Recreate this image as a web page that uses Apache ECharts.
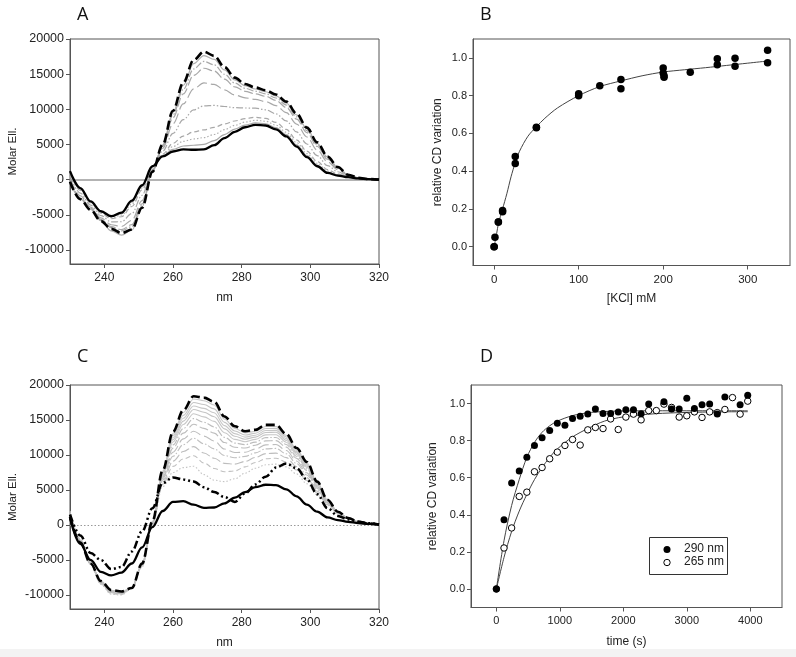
<!DOCTYPE html>
<html><head><meta charset="utf-8">
<script src="https://cdn.jsdelivr.net/npm/echarts@6/dist/echarts.min.js"></script>
<style>html,body{margin:0;padding:0;background:#fff}#c{width:796px;height:657px}</style>
</head><body><div id="c"></div>
<script>
// ---------- Panel A / C wavelength grid (nm) ----------
const wl = [230,233,236,239,242,245,248,251,254,257,260,263,266,269,272,275,278,281,284,287,290,293,296,299,302,305,308,311,314,317,320];
// ---------- Panel A (Molar Ell.) ----------
const aDashed = [-300,-2800,-4300,-5900,-7000,-7600,-7100,-4000,1100,5000,9800,13800,17000,18200,17600,16000,14500,13600,13100,12700,12100,11100,9400,7400,5300,3300,1800,700,250,80,0];
const aBlack  = [1200,-1200,-3100,-4500,-5200,-4700,-3000,-800,1900,3300,4000,4300,4250,4300,4900,5900,6800,7450,7800,7700,7150,6150,4700,3200,1900,950,580,350,180,60,0];
const aGray1 = [-240,-2750,-4250,-5850,-7300,-7900,-7200,-3870,1130,4930,9570,13420,16490,17640,17090,15600,14190,13350,12890,12500,11900,10900,9210,7230,5160,3210,1750,690,250,80,0];
const aGray2 = [-150,-2640,-4180,-5760,-6820,-7310,-6690,-3680,1180,4830,9220,12850,15730,16810,16330,14990,13730,12990,12570,12200,11610,10610,8930,6980,4960,3070,1680,670,240,80,0];
const aGray3 = [-50,-2530,-4100,-5660,-6690,-7110,-6400,-3460,1240,4710,8810,12190,14830,15840,15440,14280,13190,12560,12200,11850,11260,10260,8600,6690,4720,2900,1590,640,240,80,0];
const aGray4 = [180,-2290,-3920,-5450,-6420,-6670,-5790,-2980,1360,4460,7940,10760,12920,13750,13540,12770,12040,11630,11400,11100,10520,9520,7900,6060,4210,2550,1410,590,230,70,0];
const aGray5 = [530,-1910,-3630,-5120,-6000,-5990,-4830,-2220,1540,4060,6580,8530,9920,10490,10550,10400,10230,10190,10160,9930,9350,8350,6790,5070,3410,2000,1120,510,210,70,0];
const aGray6 = [900,-1520,-3340,-4780,-5560,-5280,-3820,-1440,1740,3640,5160,6200,6800,7080,7440,7920,8340,8680,8860,8700,8140,7140,5640,4040,2580,1420,820,420,190,60,0];
const aGray7 = [1020,-1390,-3240,-4670,-5420,-5050,-3490,-1180,1800,3500,4700,5440,5780,5970,6420,7110,7720,8190,8440,8300,7740,6740,5260,3700,2310,1230,730,390,190,60,0];
const aGray8 = [1130,-1280,-3160,-4570,-5290,-4850,-3210,-960,1860,3390,4290,4780,4890,5000,5540,6410,7190,7760,8070,7950,7400,6400,4940,3410,2070,1070,640,370,180,60,0];
// ---------- Panel C (Molar Ell.) ----------
const cDashed  = [1200,-2500,-5500,-8000,-9300,-9500,-9000,-5500,500,7800,13300,16400,18400,18200,17600,15500,14100,13400,13600,14300,14300,13000,11000,9000,6200,3600,1900,1000,450,200,50];
const cBlack   = [1000,-2700,-5000,-6700,-7200,-6800,-5500,-3200,-300,2000,3300,3400,2900,2450,2500,3100,3900,4700,5400,5750,5700,5100,4100,2900,1900,1100,700,450,280,150,50];
const cDashDot = [1500,-1500,-4000,-5000,-6300,-6000,-3800,-900,2400,6000,6800,6500,6200,5400,4700,4000,3300,4500,5800,6900,8200,8800,8100,6500,4400,2400,1300,800,480,250,80];
const cG1  = [1230,-2480,-5500,-8020,-9320,-9520,-9000,-5520,480,7710,13070,16070,18000,17760,17150,15130,13800,13160,13380,14070,14080,12810,10850,8880,6120,3570,1890,1000,450,200,50];
const cG2  = [1270,-2460,-5510,-8050,-9350,-9550,-9000,-5550,460,7590,12780,15660,17500,17210,16590,14660,13430,12860,13110,13790,13800,12580,10670,8720,6030,3530,1870,990,450,200,50];
const cG3  = [1310,-2430,-5510,-8070,-9380,-9570,-9000,-5570,430,7480,12490,15250,17000,16660,16030,14200,13050,12560,12830,13500,13520,12340,10480,8570,5930,3490,1860,990,440,200,50];
const cG4  = [1350,-2410,-5520,-8100,-9410,-9600,-9000,-5600,410,7360,12200,14840,16500,16110,15470,13730,12680,12260,12560,13220,13240,12110,10300,8410,5840,3450,1840,980,440,200,50];
const cG5  = [1400,-2380,-5530,-8130,-9450,-9630,-9000,-5630,380,7230,11850,14350,15900,15450,14800,13180,12230,11900,12230,12880,12900,11830,10080,8230,5730,3400,1830,980,440,200,50];
const cG6  = [1460,-2340,-5530,-8160,-9490,-9660,-9000,-5660,340,7060,11440,13780,15200,14680,14020,12520,11700,11480,11840,12480,12510,11500,9820,8010,5590,3340,1800,970,430,200,50];
const cG7  = [1520,-2300,-5540,-8200,-9540,-9700,-9000,-5700,300,6880,10980,13120,14400,13800,13120,11780,11100,11000,11400,12020,12060,11120,9520,7760,5440,3280,1780,960,430,200,50];
const cG8  = [1600,-2250,-5550,-8250,-9600,-9750,-9000,-5750,250,6650,10400,12300,13400,12700,12000,10850,10350,10400,10850,11450,11500,10650,9150,7450,5250,3200,1750,950,430,200,50];
const cG9  = [1680,-2200,-5560,-8300,-9660,-9800,-9000,-5800,200,6420,9820,11480,12400,11600,10880,9920,9600,9800,10300,10880,10940,10180,8780,7140,5060,3120,1720,940,420,200,50];
const cG10 = [1780,-2140,-5570,-8360,-9730,-9860,-9000,-5860,140,6140,9120,10500,11200,10280,9540,8800,8700,9080,9640,10200,10270,9620,8340,6770,4830,3020,1680,930,410,200,50];
const cG11 = [1880,-2080,-5590,-8430,-9810,-9930,-9000,-5930,80,5850,8370,9430,9900,8850,8080,7600,7730,8300,8930,9460,9540,9010,7860,6370,4590,2920,1650,920,410,200,50];
const cG12 = [2000,-2000,-5600,-8500,-9900,-10000,-9000,-6000,0,5500,7500,8200,8400,7200,6400,6200,6600,7400,8100,8600,8700,8300,7300,5900,4300,2800,1600,900,400,200,50];
// ---------- Panel B ----------
const kcl    = [0,0,1,5,5,10,10,25,25,50,50,100,100,125,150,150,200,200,201,201,232,264,264,285,285,323.5,323.5];
const kclVar = [0,0,0.05,0.13,0.13,0.185,0.192,0.478,0.44,0.63,0.632,0.80,0.81,0.852,0.885,0.836,0.947,0.92,0.905,0.898,0.924,0.996,0.963,0.998,0.956,1.04,0.974];
const kclFitX = [0,3,5,10,15,20,25,30,40,50,60,75,100,125,150,175,200,225,250,275,300,323];
const kclFitY = [0,0.07,0.12,0.2,0.28,0.37,0.445,0.505,0.585,0.635,0.68,0.735,0.80,0.848,0.878,0.905,0.925,0.937,0.948,0.96,0.972,0.983];
// ---------- Panel D ----------
const t290 = [0,120,240,360,480,600,720,840,960,1080,1200,1320,1440,1560,1680,1800,1920,2040,2160,2280,2400,2640,2760,2880,3000,3120,3240,3360,3480,3600,3840,3960];
const v290 = [0,0.373,0.571,0.636,0.711,0.774,0.815,0.855,0.894,0.883,0.919,0.932,0.943,0.971,0.946,0.946,0.955,0.966,0.966,0.945,0.998,1.009,0.97,0.971,1.029,0.973,0.993,0.998,0.943,1.035,0.993,1.045];
const t265 = [0,120,240,360,480,600,720,840,960,1080,1200,1320,1440,1560,1680,1800,1920,2040,2160,2280,2400,2520,2640,2760,2880,3000,3120,3240,3360,3480,3600,3720,3840,3960];
const v265 = [0,0.221,0.329,0.499,0.522,0.632,0.655,0.702,0.738,0.774,0.806,0.776,0.858,0.871,0.865,0.917,0.86,0.927,0.943,0.912,0.962,0.962,0.997,0.979,0.927,0.934,0.955,0.925,0.955,0.951,0.968,1.032,0.943,1.013];
const fitT   = [0,120,240,360,480,600,720,840,960,1200,1440,1700,2000,2500,3000,3500,3960];
const fit290 = [0,0.26,0.45,0.59,0.71,0.79,0.845,0.88,0.905,0.935,0.95,0.957,0.96,0.961,0.961,0.961,0.961];
const fit265 = [0,0.17,0.31,0.42,0.51,0.59,0.655,0.71,0.755,0.82,0.865,0.905,0.928,0.945,0.952,0.955,0.956];
const legendNames = ['290 nm','265 nm'];

// ---------- build ----------
const FONT = 'Liberation Sans, Arial, sans-serif';
const AX = '#555';
function pairs(xs, ys){ return xs.map((x,i)=>[x, ys[i]]); }
function curve(gi, ys, color, width, type, z){
  return {type:'line', xAxisIndex:gi, yAxisIndex:gi, data:pairs(wl, ys), smooth:0.35, smoothMonotone:'x',
    symbol:'none', silent:true, z:z||2, lineStyle:{color:color, width:width, type:type, cap:'butt'}};
}
const series = [];
// Panel A grays
const aStyles = [[aGray1,'#b0b0b0','solid'],[aGray2,'#a8a8a8',[7,2,1.5,2]],[aGray3,'#a8a8a8',[9,3]],[aGray4,'#a8a8a8',[11,4]],
  [aGray5,'#a8a8a8',[7,2,1.5,2,1.5,2]],[aGray6,'#a8a8a8',[5,3]],[aGray7,'#b0b0b0',[1.5,2]],[aGray8,'#a8a8a8','solid']];
aStyles.forEach(s=>series.push(curve(0, s[0], s[1], 1.2, s[2])));
const aBlackS = curve(0, aBlack, '#000', 2.3, 'solid', 5);
aBlackS.markLine = {silent:true, symbol:'none', label:{show:false}, animation:false,
  lineStyle:{color:'#9a9a9a', width:1.6, type:'solid'}, data:[{yAxis:0}]};
series.push(aBlackS);
series.push(curve(0, aDashed, '#000', 2.6, [9,4], 6));
// Panel C grays
const cStyles = [[cG1,'#c8c8c8','solid'],[cG2,'#c4c4c4','solid'],[cG3,'#c8c8c8','solid'],[cG4,'#c4c4c4','solid'],[cG5,'#c8c8c8','solid'],
  [cG6,'#bdbdbd',[7,2,1.5,2]],[cG7,'#bdbdbd',[9,3]],[cG8,'#bdbdbd',[11,4]],[cG9,'#c0c0c0',[7,2,1.5,2]],[cG10,'#bdbdbd',[9,3]],
  [cG11,'#c0c0c0',[5,3]],[cG12,'#c4c4c4',[1.5,2]]];
cStyles.forEach(s=>series.push(curve(2, s[0], s[1], 1.1, s[2])));
const cBlackS = curve(2, cBlack, '#000', 2.3, 'solid', 5);
cBlackS.markLine = {silent:true, symbol:'none', label:{show:false}, animation:false,
  lineStyle:{color:'#999', width:1, type:[1.5,2]}, data:[{yAxis:0}]};
series.push(cBlackS);
series.push(curve(2, cDashDot, '#000', 2.5, [8,3,2,3,2,3], 6));
series.push(curve(2, cDashed, '#000', 2.6, [9,4], 6));
// Panel B
series.push({type:'line', xAxisIndex:1, yAxisIndex:1, data:pairs(kclFitX,kclFitY), smooth:0.3, symbol:'none', silent:true,
  lineStyle:{color:'#444', width:1}, z:3});
series.push({type:'scatter', xAxisIndex:1, yAxisIndex:1, data:pairs(kcl,kclVar), symbol:'circle', symbolSize:7.5, silent:true,
  itemStyle:{color:'#000', opacity:1}, z:4});
// Panel D
series.push({type:'line', xAxisIndex:3, yAxisIndex:3, data:pairs(fitT,fit290), smooth:0.3, symbol:'none', silent:true,
  lineStyle:{color:'#444', width:1}, z:3});
series.push({type:'line', xAxisIndex:3, yAxisIndex:3, data:pairs(fitT,fit265), smooth:0.3, symbol:'none', silent:true,
  lineStyle:{color:'#444', width:1}, z:3});
series.push({type:'scatter', name:legendNames[1], xAxisIndex:3, yAxisIndex:3, data:pairs(t265,v265), symbol:'circle', symbolSize:6.5, silent:true,
  itemStyle:{color:'#fff', borderColor:'#000', borderWidth:1, opacity:1}, z:4});
series.push({type:'scatter', name:legendNames[0], xAxisIndex:3, yAxisIndex:3, data:pairs(t290,v290), symbol:'circle', symbolSize:7, silent:true,
  itemStyle:{color:'#000', opacity:1}, z:5});

function xAxis(gi, min, max, ticks, name, fs, gap, fmt){
  return {gridIndex:gi, type:'value', min:min, max:max, name:name, nameLocation:'middle', nameGap:gap,
    nameTextStyle:{fontFamily:FONT, fontSize:12, color:'#222'},
    axisLine:{show:true, onZero:false, lineStyle:{color:AX, width:1}},
    axisTick:{show:true, inside:false, length:4, customValues:ticks, lineStyle:{color:AX}},
    axisLabel:{customValues:ticks, fontFamily:FONT, fontSize:fs, color:'#222', margin:8, formatter:fmt},
    splitLine:{show:false}};
}
function yAxis(gi, min, max, ticks, name, fs, gap, nfs, fmt){
  return {gridIndex:gi, type:'value', min:min, max:max, name:name, nameLocation:'middle', nameGap:gap,
    nameTextStyle:{fontFamily:FONT, fontSize:nfs, color:'#222'},
    axisLine:{show:true, onZero:false, lineStyle:{color:AX, width:1}},
    axisTick:{show:true, inside:false, length:4, customValues:ticks, lineStyle:{color:AX}},
    axisLabel:{customValues:ticks, fontFamily:FONT, fontSize:fs, color:'#222', margin:6, formatter:fmt},
    splitLine:{show:false}};
}
const f1 = v=>Number(v).toFixed(1);
const fi = v=>String(Math.round(v));
const gridBase = {show:true, borderColor:AX, borderWidth:1, backgroundColor:'transparent'};
const LET = {fontFamily:'Open Sans', fontSize:18, fontWeight:'normal', color:'#111'};
const option = {
  animation:false,
  backgroundColor:'#fff',
  title:[
    {text:'A', left:77, top:6, padding:0, textStyle:LET},
    {text:'B', left:480, top:6, padding:0, textStyle:LET},
    {text:'C', left:77, top:348, padding:0, textStyle:LET},
    {text:'D', left:480, top:348, padding:0, textStyle:LET}
  ],
  grid:[
    Object.assign({left:70, top:39, width:309, height:225}, gridBase),
    Object.assign({left:473, top:39, width:317, height:226.5}, gridBase),
    Object.assign({left:70, top:385, width:309, height:224}, gridBase),
    Object.assign({left:471, top:385, width:311, height:222.5}, gridBase)
  ],
  xAxis:[
    xAxis(0, 230, 320, [240,260,280,300,320], 'nm', 12, 28, fi),
    xAxis(1, -25, 350, [0,100,200,300], '[KCl] mM', 11.5, 27, fi),
    xAxis(2, 230, 320, [240,260,280,300,320], 'nm', 12, 28, fi),
    xAxis(3, -400, 4500, [0,1000,2000,3000,4000], 'time (s)', 11, 28, fi)
  ],
  yAxis:[
    yAxis(0, -12000, 20000, [-10000,-5000,0,5000,10000,15000,20000], 'Molar Ell.', 12.5, 51, 11.5, fi),
    yAxis(1, -0.1, 1.1, [0,0.2,0.4,0.6,0.8,1.0], 'relative CD variation', 11, 29, 12, f1),
    yAxis(2, -12000, 20000, [-10000,-5000,0,5000,10000,15000,20000], 'Molar Ell.', 12.5, 51, 11.5, fi),
    yAxis(3, -0.1, 1.1, [0,0.2,0.4,0.6,0.8,1.0], 'relative CD variation', 11, 32, 12, f1)
  ],
  graphic:[
    {type:'rect', left:0, top:649, silent:true, z:-10, shape:{width:796, height:8}, style:{fill:'#f3f3f3'}},
    {type:'rect', left:649, top:537, silent:true, z:10, shape:{width:78, height:37}, style:{fill:'#fff', stroke:'#333', lineWidth:1}},
    {type:'circle', silent:true, z:11, shape:{cx:667, cy:549.5, r:3.5}, style:{fill:'#000'}},
    {type:'circle', silent:true, z:11, shape:{cx:667, cy:562.5, r:3.2}, style:{fill:'#fff', stroke:'#000', lineWidth:1}},
    {type:'text', silent:true, z:11, left:684, top:543, style:{text:legendNames[0], font:'12px Liberation Sans, Arial, sans-serif', fill:'#222'}},
    {type:'text', silent:true, z:11, left:684, top:556, style:{text:legendNames[1], font:'12px Liberation Sans, Arial, sans-serif', fill:'#222'}}
  ],
  series:series
};
const chart = echarts.init(document.getElementById('c'), null, {renderer:'canvas'});
chart.setOption(option);
</script></body></html>
